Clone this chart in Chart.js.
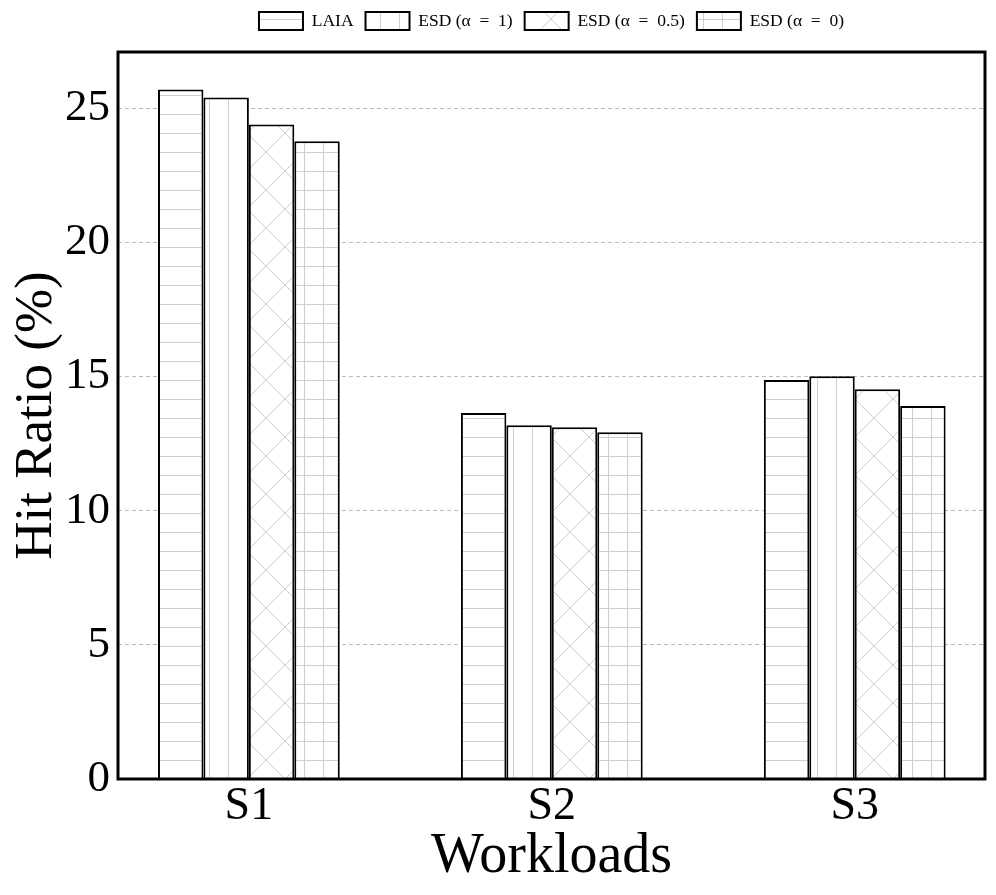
<!DOCTYPE html>
<html>
<head>
<meta charset="utf-8">
<script src="https://cdn.jsdelivr.net/npm/chart.js@4/dist/chart.umd.min.js"></script>
<style>
html,body{margin:0;padding:0;background:#fff;}
#wrap{width:996px;height:895px;}
</style>
</head>
<body>
<div id="wrap"><canvas id="c" width="996" height="895"></canvas></div>
<script>
const categories = ['S1', 'S2', 'S3'];
const seriesNames = ['LAIA', 'ESD (\u03B1\u2002=\u20021)', 'ESD (\u03B1\u2002=\u20020.5)', 'ESD (\u03B1\u2002=\u20020)'];
const laia = [25.7, 13.64, 14.87];
const esd1 = [25.4, 13.19, 15.01];
const esd05 = [24.4, 13.11, 14.53];
const esd0 = [23.77, 12.93, 13.9];
const yTicks = [0, 5, 10, 15, 20, 25];

function makePattern(kind) {
  const s = kind === 'cross' ? 38 : 19;
  const cv = document.createElement('canvas');
  cv.width = s; cv.height = s;
  const g = cv.getContext('2d');
  g.fillStyle = '#ffffff';
  g.fillRect(0, 0, s, s);
  g.strokeStyle = '#cfcfcf';
  g.lineWidth = 1;
  g.beginPath();
  if (kind === 'h' || kind === 'grid') { g.moveTo(0, 0.5); g.lineTo(s, 0.5); }
  if (kind === 'v' || kind === 'grid') { g.moveTo(0.5, 0); g.lineTo(0.5, s); }
  if (kind === 'cross') {
    g.moveTo(0, 0); g.lineTo(s, s);
    g.moveTo(s, 0); g.lineTo(0, s);
  }
  g.stroke();
  return document.createElement('canvas').getContext('2d').createPattern(cv, 'repeat');
}

const patterns = [makePattern('h'), makePattern('v'), makePattern('cross'), makePattern('grid')];
const seriesData = [laia, esd1, esd05, esd0];

const datasets = seriesData.map((arr, i) => ({
  label: seriesNames[i],
  data: arr.map((v, j) => ({ x: j, y: v })),
  backgroundColor: patterns[i],
  borderColor: '#000000',
  borderWidth: 2,
  borderSkipped: 'bottom',
  categoryPercentage: 0.6,
  barPercentage: 1.0
}));

const framePlugin = {
  id: 'frame',
  beforeLayout(chart) {
    const lg = chart.legend;
    if (lg && !lg._patched) {
      const origFit = lg.fit;
      lg.fit = function () { origFit.call(this); this.height = 52; };
      lg._patched = true;
    }
  },
  afterDraw(chart) {
    const a = chart.chartArea, ctx = chart.ctx;
    ctx.save();
    ctx.strokeStyle = '#000';
    ctx.lineWidth = 3;
    ctx.strokeRect(a.left, a.top, a.right - a.left, a.bottom - a.top);
    ctx.restore();
  }
};

const serif = "'Liberation Serif', 'Times New Roman', serif";

new Chart(document.getElementById('c'), {
  type: 'bar',
  data: { datasets },
  plugins: [framePlugin],
  options: {
    responsive: false,
    animation: false,
    layout: { padding: { left: 0, right: 11, top: 0, bottom: 0 } },
    plugins: {
      legend: {
        position: 'top',
        fullSize: false,
        labels: {
          font: { family: serif, size: 17.5 },
          color: '#000',
          boxWidth: 44,
          boxHeight: 18,
          padding: 12
        }
      },
      tooltip: { enabled: false }
    },
    scales: {
      x: {
        type: 'linear',
        offset: false,
        min: -0.432,
        max: 2.43,
        afterBuildTicks(axis) { axis.ticks = categories.map((c, i) => ({ value: i })); },
        afterFit(axis) { axis.height = 116; },
        ticks: {
          callback: (v) => categories[v],
          font: { family: serif, size: 46 },
          color: '#000',
          padding: 0
        },
        grid: { display: false, drawTicks: false },
        border: { display: false },
        title: {
          display: true,
          text: 'Workloads',
          font: { family: serif, size: 56 },
          color: '#000',
          padding: { top: 0, bottom: 4 }
        }
      },
      y: {
        min: 0,
        max: 27.1,
        afterBuildTicks(axis) { axis.ticks = yTicks.map(v => ({ value: v })); },
        afterFit(axis) { axis.width = 118; },
        ticks: {
          font: { family: serif, size: 45 },
          color: '#000',
          padding: 8
        },
        grid: {
          drawTicks: false,
          color: (ctx) => ctx.tick && ctx.tick.value === 0 ? 'rgba(0,0,0,0)' : '#bdbdbd',
          lineWidth: 1
        },
        border: { display: false, dash: [4, 3] },
        title: {
          display: true,
          text: 'Hit Ratio (%)',
          font: { family: serif, size: 53 },
          color: '#000',
          padding: { top: 5, bottom: 0 }
        }
      }
    }
  }
});
</script>
</body>
</html>
